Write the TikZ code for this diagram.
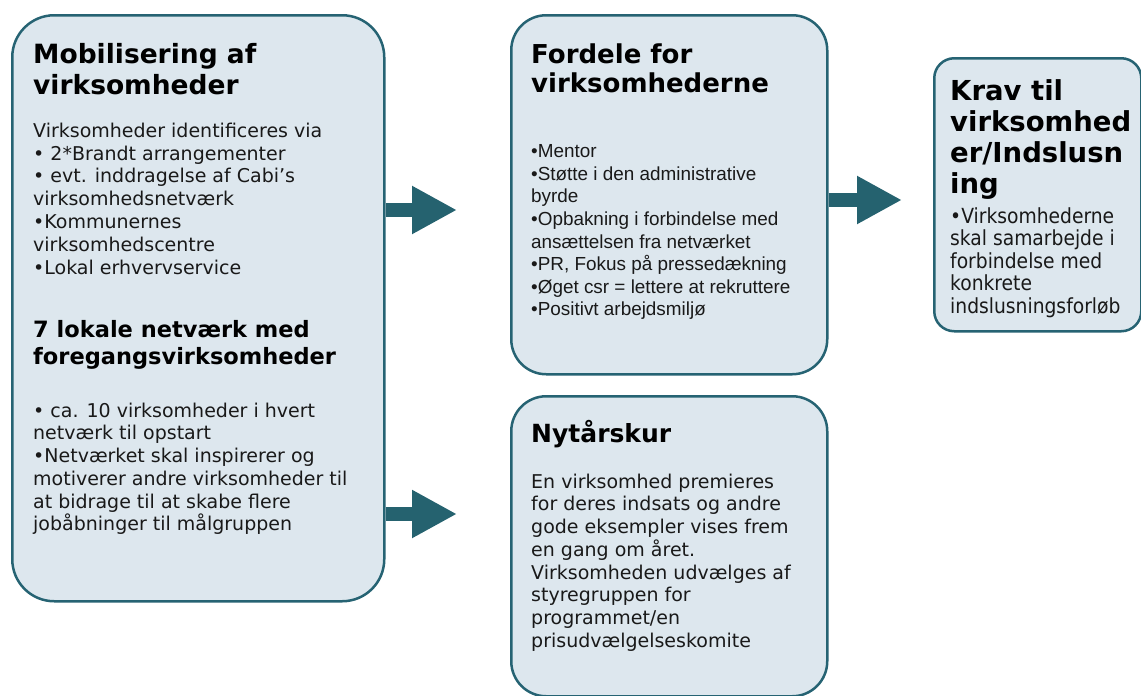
\documentclass[tikz,border=0pt]{standalone}
\usepackage{fontspec}
\setmainfont{DejaVu Sans}
\newfontfamily\arialfont{Liberation Sans}
\newfontfamily\tahomafont{DejaVu Sans Condensed}
\usetikzlibrary{arrows.meta}
\definecolor{boxfill}{RGB}{221,231,238}
\definecolor{boxline}{RGB}{38,99,115}
\definecolor{arrowcol}{RGB}{37,98,111}
\definecolor{bodytext}{RGB}{25,25,25}

\tikzset{
	panel/.style={draw=boxline, line width=2.5pt, fill=boxfill, anchor=north west, inner sep=0pt},
	head/.style={anchor=north west, inner sep=0pt, align=left, text=black},
	body/.style={anchor=north west, inner sep=0pt, align=left, text=bodytext},
	bigarrow/.style={draw=arrowcol, line width=14pt, -{Triangle[length=45pt,width=45pt]}}
}

\begin{document}
\begin{tikzpicture}[x=1pt,y=-1pt]
		%%%%% FRAME %%%%%
		\useasboundingbox (0,0) rectangle (1141,696);
		
		%%%%% BOXES %%%%%
		\node[panel, rounded corners=42pt, minimum width=372pt, minimum height=586pt] (mob) at (11,14) {};
		\node[panel, rounded corners=35pt, minimum width=316pt, minimum height=359pt] (fordele) at (510,14) {};
		\node[panel, rounded corners=35pt, minimum width=316pt, minimum height=300pt] (nytaar) at (510,395) {};
		\node[panel, rounded corners=20pt, minimum width=207pt, minimum height=273pt] (krav) at (933,57) {};
		
		%%%%% ARROWS %%%%%
		\coordinate (tipA) at (457,210);
		\coordinate (tipB) at (457,514);
		\coordinate (tipC) at (902,200);
		\draw[bigarrow] (mob.east |- tipA) -- (tipA);
		\draw[bigarrow] (mob.east |- tipB) -- (tipB);
		\draw[bigarrow] (fordele.east |- tipC) -- (tipC);
		
		%%%%% TEXT %%%%%
		\node[head, font=\bfseries\fontsize{26.5}{31}\selectfont] (mobhead) at (33,43) {Mobilisering af\\virksomheder};
		\node[body, font=\fontsize{19}{22.8}\selectfont] (mobtext) at (33,122.6) {Virksomheder identificeres via\\
			• 2*Brandt arrangementer\\
			• evt. inddragelse af Cabi’s\\
			virksomhedsnetværk\\
			•Kommunernes\\
			virksomhedscentre\\
			•Lokal erhvervservice};
		\node[head, font=\bfseries\fontsize{22.5}{27}\selectfont] (nethead) at (33,320) {7 lokale netværk med\\foregangsvirksomheder};
		\node[body, font=\fontsize{19}{22.7}\selectfont] (nettext) at (33,402.6) {• ca. 10 virksomheder i hvert\\
			netværk til opstart\\
			•Netværket skal inspirerer og\\
			motiverer andre virksomheder til\\
			at bidrage til at skabe flere\\
			jobåbninger til målgruppen};
		
		\node[head, font=\bfseries\fontsize{26}{29}\selectfont] (forhead) at (531,43.2) {Fordele for\\virksomhederne};
		\node[body, font=\arialfont\fontsize{18.9}{22.6}\selectfont] (fortext) at (531,144.5) {•Mentor\\
			•Støtte i den administrative\\
			byrde\\
			•Opbakning i forbindelse med\\
			ansættelsen fra netværket\\
			•PR, Fokus på pressedækning\\
			•Øget csr = lettere at rekruttere\\
			•Positivt arbejdsmiljø};
		
		\node[head, font=\bfseries\fontsize{25}{30}\selectfont] (nyhead) at (531,420) {Nytårskur};
		\node[body, font=\fontsize{19}{22.7}\selectfont] (nytext) at (531,473.6) {En virksomhed premieres\\
			for deres indsats og andre\\
			gode eksempler vises frem\\
			en gang om året.\\
			Virksomheden udvælges af\\
			styregruppen for\\
			programmet/en\\
			prisudvælgelseskomite};
		
		\node[head, font=\bfseries\fontsize{27.5}{31}\selectfont] (kravhead) at (950,79.5) {Krav til\\virksomhed\\er/Indslusn\\ing};
		\node[body, font=\tahomafont\fontsize{20.8}{22.5}\selectfont] (kravtext) at (950,207.4) {•Virksomhederne\\
			skal samarbejde i\\
			forbindelse med\\
			konkrete\\
			indslusningsforløb};
\end{tikzpicture}
\end{document}
